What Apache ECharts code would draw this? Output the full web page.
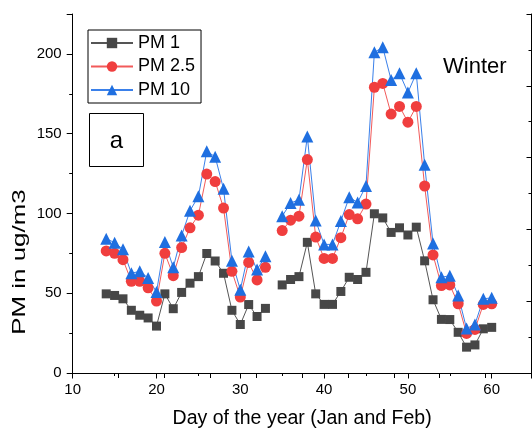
<!DOCTYPE html>
<html>
<head>
<meta charset="utf-8">
<script src="https://cdn.jsdelivr.net/npm/echarts@6/dist/echarts.min.js"></script>
<style>html,body{margin:0;padding:0;background:#fff}#c{width:532px;height:434px}</style>
</head>
<body>
<div id="c"></div>
<script>
var days = [14,15,16,17,18,19,20,21,22,23,24,25,26,27,28,29,30,31,32,33,34,35,36,37,38,39,40,41,42,43,44,45,46,47,48,49,50,51,52,53,54,55,56,57,58,59,60];
var pm1 = [49.6,48.6,46.5,39.3,36.2,34.5,29.4,49.6,40.3,50.5,56.3,60.4,74.9,70.2,62.5,39.3,30.4,42.9,35.4,40.5,null,55.2,58.6,60.4,81.9,49.6,43,43,51.1,60,58.6,63.1,99.8,97.2,88.1,91,86.5,91.4,70.3,45.9,33.6,33.5,25.5,16.2,17.6,27.7,28.6];
var pm25 = [76.5,75,71,57.5,57.5,53.4,45.1,75,61,78.6,91,98.9,124.7,120,103.4,63.7,47.6,69.3,58.3,66.2,null,89.3,95.8,98.3,133.8,85.2,71.8,71.8,84.8,99.3,96.6,105.9,179.1,181.5,162.3,167.1,157.2,167.1,117.2,74,54.8,55.2,43.4,24.8,27.3,43,43.4];
var pm10 = [84.2,81.7,77.5,62.5,63.7,59.6,50.7,82.1,66.2,86.2,101.7,110.7,139,135.5,115.4,70.3,52.1,76.1,64.8,73.2,null,98.3,106.5,108.6,148.3,95.5,80.6,80.6,95.2,110.2,106.9,117.2,201,204.2,183.6,187.8,175.8,187.8,130.5,81.1,60,61,48.6,27.9,30.4,46.5,47.1];
var seriesNames = ['PM 1','PM 2.5','PM 10'];
var xTitle = 'Day of the year (Jan and Feb)';
var yTitle = 'PM in ug/m3';
var panelLabel = 'a';
var seasonLabel = 'Winter';

function pairs(vals){ return days.map(function(d,i){ return [d, vals[i]]; }); }
var FONT = 'Liberation Sans';
var chart = echarts.init(document.getElementById('c'), null, {renderer:'canvas'});
var axisLine = {show:true, lineStyle:{color:'#000', width:1}};
chart.setOption({
  animation:false,
  backgroundColor:'#fff',
  textStyle:{fontFamily:FONT},
  grid:{left:72.7, right:0.5, top:14, bottom:57.3, containLabel:false},
  xAxis:[{
    type:'value', min:10, max:64.75, interval:10, position:'bottom',
    axisLine:axisLine,
    axisTick:{show:true, inside:false, length:5.5, lineStyle:{color:'#000'}},
    minorTick:{show:true, splitNumber:2, length:3, lineStyle:{color:'#000'}},
    splitLine:{show:false},
    axisLabel:{fontSize:15, color:'#000', margin:9, fontFamily:FONT, showMaxLabel:false},
    name:xTitle, nameLocation:'middle', nameGap:36,
    nameTextStyle:{fontSize:19.5, color:'#000', fontFamily:FONT}
  },{
    type:'value', min:0, max:10, interval:1, position:'top',
    axisLine:axisLine,
    axisTick:{show:true, inside:true, length:5, lineStyle:{color:'#000'}},
    axisLabel:{show:false}, splitLine:{show:false}
  }],
  yAxis:[{
    type:'value', min:0, max:225, interval:50, position:'left',
    axisLine:axisLine,
    axisTick:{show:true, inside:false, length:6, lineStyle:{color:'#000'}},
    minorTick:{show:true, splitNumber:2, length:3.5, lineStyle:{color:'#000'}},
    splitLine:{show:false},
    axisLabel:{fontSize:15, color:'#000', margin:11, fontFamily:FONT, showMaxLabel:false}
  },{
    type:'value', min:0, max:10, interval:2, position:'right',
    axisLine:axisLine,
    axisTick:{show:true, inside:true, length:5, lineStyle:{color:'#000'}},
    minorTick:{show:true, splitNumber:2, length:3, lineStyle:{color:'#000'}},
    axisLabel:{show:false}, splitLine:{show:false}
  }],
  legend:{
    show:true, orient:'vertical', left:88, top:30,
    data:seriesNames,
    itemWidth:42, itemHeight:13, itemGap:5.5,
    padding:[4,6,4,2],
    borderColor:'#000', borderWidth:1,
    textStyle:{fontSize:18, color:'#000', fontFamily:FONT}
  },
  series:[{
    name:seriesNames[0], type:'line', data:pairs(pm1), connectNulls:false,
    symbol:'rect', symbolSize:9,
    itemStyle:{color:'#474747'}, lineStyle:{color:'#555', width:1}
  },{
    name:seriesNames[1], type:'line', data:pairs(pm25), connectNulls:false,
    symbol:'circle', symbolSize:11,
    itemStyle:{color:'#f03e3e'}, lineStyle:{color:'#f25a5a', width:1}
  },{
    name:seriesNames[2], type:'line', data:pairs(pm10), connectNulls:false,
    symbol:'triangle', symbolSize:12,
    itemStyle:{color:'#1f6fe0'}, lineStyle:{color:'#3a80ea', width:1}
  }],
  graphic:[
    {type:'rect', shape:{x:89.5, y:113.5, width:54, height:53}, style:{fill:'#fff', stroke:'#000', lineWidth:1}, z:100},
    {type:'text', x:116.5, y:141, style:{text:panelLabel, fontSize:24, fontFamily:FONT, fill:'#000', align:'center', verticalAlign:'middle'}, z:101},
    {type:'text', x:443, y:67, style:{text:seasonLabel, fontSize:22, fontFamily:FONT, fill:'#000', align:'left', verticalAlign:'middle'}, z:101},
    {type:'text', x:20, y:262, rotation:Math.PI/2, scaleX:1.4, style:{text:yTitle, fontSize:18.5, fontFamily:FONT, fill:'#000', align:'center', verticalAlign:'middle'}, z:101}
  ]
});
</script>
</body>
</html>
